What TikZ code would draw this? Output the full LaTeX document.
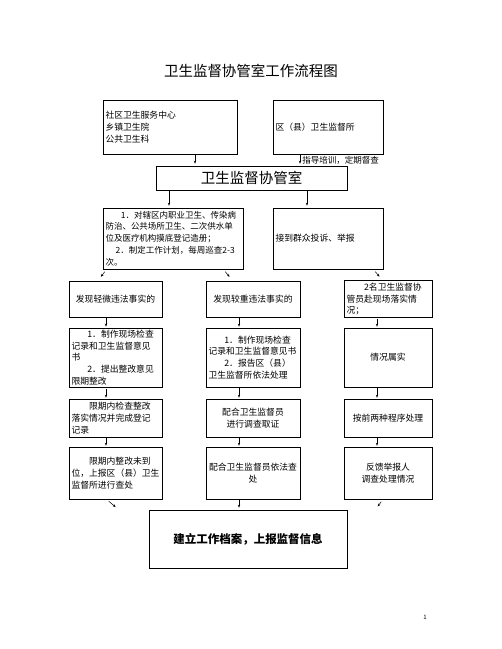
\documentclass[tikz,border=0pt]{standalone}
\usepackage{fontspec}
\setmainfont{Noto Sans CJK SC}
\usetikzlibrary{arrows.meta}
\begin{document}
\begin{tikzpicture}[x=1pt,y=-1pt,font=\fontsize{8.8}{11.8}\selectfont]
    \tikzstyle{box}=[draw=black,line width=0.6pt,inner xsep=2.5pt,inner ysep=2pt]
    \tikzstyle{arr}=[-{Stealth[length=3pt,width=2.4pt]},line width=0.5pt]
    \useasboundingbox (0,0) rectangle (502,649);

    \node (title) at (251,71) {\fontsize{14.5}{16}\selectfont 卫生监督协管室工作流程图};

    % top row
    \node[box,align=left,text width=129pt,minimum height=54pt] (comm) at (170,127)
        {社区卫生服务中心\\乡镇卫生院\\公共卫生科};
    \node[box,align=left,text width=105pt,minimum height=54pt] (dist) at (328,127)
        {区（县）卫生监督所};
    \node[box,minimum width=191pt,minimum height=24pt] (office) at (251.5,178)
        {\fontsize{14.5}{16}\selectfont 卫生监督协管室};

    \draw[arr,shorten >=2pt] ([xshift=25pt]comm.south) -- ([xshift=25pt]comm.south |- office.north);
    \draw[arr,shorten >=2pt] ([xshift=-28pt]dist.south) -- ([xshift=-28pt]dist.south |- office.north)
        node[midway,right,inner sep=2pt,font=\fontsize{8.5}{10}\selectfont] {指导培训，定期督查};

    % duties and complaints
    \node[box,align=left,text width=135pt,minimum height=61pt,font=\fontsize{8.5}{11.8}\selectfont] (duty) at (173,238.5)
        {\hspace*{1.8em}1．对辖区内职业卫生、传染病\\防治、公共场所卫生、二次供水单\\位及医疗机构摸底登记造册；\\\hspace*{1.2em}2．制定工作计划，每周巡查\mbox{2-3}\\次。};
    \node[box,align=left,text width=105pt,minimum height=61pt] (compl) at (328,238.5)
        {接到群众投诉、举报};

    \draw[arr,shorten >=2pt] ([xshift=-82.5pt]office.south) -- ([xshift=-82.5pt]office.south |- duty.north);
    \draw[arr,shorten >=2pt] ([xshift=55.5pt]office.south) -- ([xshift=55.5pt]office.south |- compl.north);

    % left column
    \node[box,align=center,text width=88pt,minimum height=36pt] (L-1) at (115.5,299) {发现轻微违法事实的};
    \node[box,align=left,text width=88pt,minimum height=59pt] (L-2) at (115.5,357.5)
        {\hspace*{1.8em}1．制作现场检查\\记录和卫生监督意见\\书\\\hspace*{1.8em}2．提出整改意见\\限期整改};
    \node[box,align=left,text width=88pt,minimum height=38pt] (L-3) at (115.5,418)
        {\hspace*{2em}限期内检查整改\\落实情况并完成登记\\记录};
    \node[box,align=left,text width=88pt,minimum height=52pt] (L-4) at (115.5,473)
        {\hspace*{2em}限期内整改未到\\位，上报区（县）卫生\\监督所进行查处};

    % middle column
    \node[box,align=center,text width=89pt,minimum height=36pt] (M-1) at (253,299) {发现较重违法事实的};
    \node[box,align=left,text width=89pt,minimum height=59pt] (M-2) at (253,357.5)
        {\hspace*{1.8em}1．制作现场检查\\记录和卫生监督意见书\\\hspace*{1.8em}2．报告区（县）\\卫生监督所依法处理};
    \node[box,align=center,text width=89pt,minimum height=38pt] (M-3) at (253,418)
        {配合卫生监督员\\进行调查取证};
    \node[box,align=center,text width=89pt,minimum height=52pt] (M-4) at (253,473)
        {配合卫生监督员依法查\\处};

    % right column
    \node[box,align=left,text width=83pt,minimum height=36pt] (R-1) at (388,299)
        {\hspace*{2em}2名卫生监督协\\管员赴现场落实情\\况；};
    \node[box,align=center,text width=83pt,minimum height=59pt] (R-2) at (388,357.5) {情况属实};
    \node[box,align=center,text width=83pt,minimum height=38pt] (R-3) at (388,418) {按前两种程序处理};
    \node[box,align=center,text width=83pt,minimum height=52pt] (R-4) at (388,473)
        {反馈举报人\\调查处理情况};

    \node[box,minimum width=198pt,minimum height=58pt] (final) at (248,539)
        {\fontsize{11.5}{13}\selectfont\bfseries 建立工作档案，上报监督信息};

    \node (page) at (425,617) {\fontsize{6}{7}\selectfont 1};

    \draw[arr,shorten <=3pt,shorten >=5pt] ([xshift=4pt]duty.south west) -- ([xshift=29pt]L-1.north west);
    \draw[arr,shorten <=3pt,shorten >=5pt] ([xshift=-20pt]duty.south east) -- ([xshift=27pt]M-1.north west);
    \draw[arr,shorten <=3pt,shorten >=5pt] ([xshift=-10pt]compl.south east) -- ([xshift=39pt]R-1.north west);

    \foreach \col/\dx in {L/-9.5, M/-14, R/-11}
        \foreach \a/\b in {1/2, 2/3, 3/4}
            \draw[arr,shorten <=1pt,shorten >=1pt] ([xshift=\dx pt]\col-\a.south) -- ([xshift=\dx pt]\col-\a.south |- \col-\b.north);

    \draw[arr,shorten <=3pt,shorten >=4pt] ([xshift=-9pt]L-4.south) -- ([xshift=-30pt]final.north west);
    \draw[arr,shorten <=1pt,shorten >=2pt] ([xshift=-14pt]M-4.south) -- ([xshift=-14pt]M-4.south |- final.north);
    \draw[arr,shorten <=3pt,shorten >=4pt] ([xshift=-5pt]R-4.south) -- ([xshift=28pt]final.north east);
\end{tikzpicture}
\end{document}
